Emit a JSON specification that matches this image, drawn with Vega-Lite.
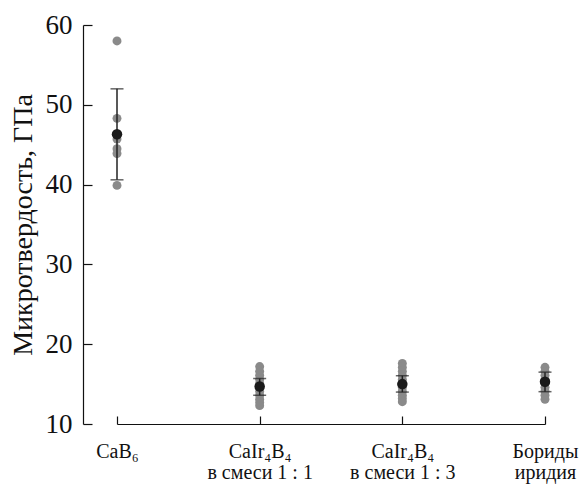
{
  "$schema": "https://vega.github.io/schema/vega-lite/v6.json",
  "width": 500,
  "height": 399,
  "autosize": {"type": "none"},
  "padding": {"left": 83, "top": 25, "right": 0, "bottom": 62},
  "background": "white",
  "config": {
    "view": {"stroke": null},
    "font": "Liberation Serif",
    "axis": {
      "grid": false,
      "domainColor": "#111111",
      "tickColor": "#111111",
      "labelColor": "#111111",
      "titleColor": "#111111",
      "labelFont": "Liberation Serif",
      "titleFont": "Liberation Serif",
      "domainWidth": 1.2,
      "tickWidth": 1.2
    }
  },
  "datasets": {
    "pts": [
      {"group": "CaB₆", "value": 58.0},
      {"group": "CaB₆", "value": 48.3},
      {"group": "CaB₆", "value": 45.7},
      {"group": "CaB₆", "value": 44.5},
      {"group": "CaB₆", "value": 43.9},
      {"group": "CaB₆", "value": 39.9},
      {"group": "CaIr₄B₄|в смеси 1 : 1", "value": 17.2},
      {"group": "CaIr₄B₄|в смеси 1 : 1", "value": 16.6},
      {"group": "CaIr₄B₄|в смеси 1 : 1", "value": 16.1},
      {"group": "CaIr₄B₄|в смеси 1 : 1", "value": 15.6},
      {"group": "CaIr₄B₄|в смеси 1 : 1", "value": 15.1},
      {"group": "CaIr₄B₄|в смеси 1 : 1", "value": 14.6},
      {"group": "CaIr₄B₄|в смеси 1 : 1", "value": 14.1},
      {"group": "CaIr₄B₄|в смеси 1 : 1", "value": 13.6},
      {"group": "CaIr₄B₄|в смеси 1 : 1", "value": 13.1},
      {"group": "CaIr₄B₄|в смеси 1 : 1", "value": 12.7},
      {"group": "CaIr₄B₄|в смеси 1 : 1", "value": 12.3},
      {"group": "CaIr₄B₄|в смеси 1 : 3", "value": 17.6},
      {"group": "CaIr₄B₄|в смеси 1 : 3", "value": 17.1},
      {"group": "CaIr₄B₄|в смеси 1 : 3", "value": 16.6},
      {"group": "CaIr₄B₄|в смеси 1 : 3", "value": 16.1},
      {"group": "CaIr₄B₄|в смеси 1 : 3", "value": 15.6},
      {"group": "CaIr₄B₄|в смеси 1 : 3", "value": 15.1},
      {"group": "CaIr₄B₄|в смеси 1 : 3", "value": 14.6},
      {"group": "CaIr₄B₄|в смеси 1 : 3", "value": 14.1},
      {"group": "CaIr₄B₄|в смеси 1 : 3", "value": 13.6},
      {"group": "CaIr₄B₄|в смеси 1 : 3", "value": 13.2},
      {"group": "CaIr₄B₄|в смеси 1 : 3", "value": 12.8},
      {"group": "Бориды|иридия", "value": 17.1},
      {"group": "Бориды|иридия", "value": 16.6},
      {"group": "Бориды|иридия", "value": 16.1},
      {"group": "Бориды|иридия", "value": 15.6},
      {"group": "Бориды|иридия", "value": 15.1},
      {"group": "Бориды|иридия", "value": 14.6},
      {"group": "Бориды|иридия", "value": 14.1},
      {"group": "Бориды|иридия", "value": 13.6},
      {"group": "Бориды|иридия", "value": 13.1}
    ],
    "stats": [
      {"group": "CaB₆", "mean": 46.3, "lo": 40.6, "hi": 52.0},
      {"group": "CaIr₄B₄|в смеси 1 : 1", "mean": 14.7, "lo": 13.6, "hi": 15.7},
      {"group": "CaIr₄B₄|в смеси 1 : 3", "mean": 15.0, "lo": 14.0, "hi": 16.05},
      {"group": "Бориды|иридия", "mean": 15.3, "lo": 14.05, "hi": 16.5}
    ]
  },
  "encoding": {
    "x": {
      "field": "group",
      "type": "nominal",
      "scale": {
        "type": "point",
        "domain": ["CaB₆", "CaIr₄B₄|в смеси 1 : 1", "CaIr₄B₄|в смеси 1 : 3", "Бориды|иридия"],
        "range": [34, 462],
        "padding": 0
      },
      "axis": {
        "title": null,
        "labelAngle": 0,
        "labelFont": "Liberation Serif",
        "labelFontSize": 20,
        "labelLineHeight": 21,
        "labelExpr": "split(datum.label, '|')",
        "tickSize": -8,
        "labelPadding": 25,
        "labelBaseline": "top"
      }
    }
  },
  "layer": [
    {
      "data": {"name": "pts"},
      "mark": {"type": "circle", "size": 80, "color": "#8a8a8a", "opacity": 1},
      "encoding": {
        "y": {
          "field": "value",
          "type": "quantitative",
          "scale": {"domain": [10, 60], "nice": false, "zero": false},
          "axis": {
            "title": "Микротвердость, ГПа",
            "titleFont": "Liberation Serif",
            "titleFontSize": 28,
            "titleFontWeight": "normal",
            "titlePadding": 8,
            "labelFont": "Liberation Serif",
            "labelFontSize": 27,
            "values": [10, 20, 30, 40, 50, 60],
            "tickSize": -9,
            "labelPadding": 20
          }
        }
      }
    },
    {
      "data": {"name": "stats"},
      "mark": {"type": "rule", "color": "#222222", "strokeWidth": 1.5},
      "encoding": {
        "y": {"field": "lo", "type": "quantitative"},
        "y2": {"field": "hi"}
      }
    },
    {
      "data": {"name": "stats"},
      "mark": {"type": "tick", "color": "#222222", "size": 13, "thickness": 1.5},
      "encoding": {
        "y": {"field": "lo", "type": "quantitative"}
      }
    },
    {
      "data": {"name": "stats"},
      "mark": {"type": "tick", "color": "#222222", "size": 13, "thickness": 1.5},
      "encoding": {
        "y": {"field": "hi", "type": "quantitative"}
      }
    },
    {
      "data": {"name": "stats"},
      "mark": {"type": "circle", "size": 110, "color": "#1a1a1a", "opacity": 1},
      "encoding": {
        "y": {"field": "mean", "type": "quantitative"}
      }
    }
  ]
}
